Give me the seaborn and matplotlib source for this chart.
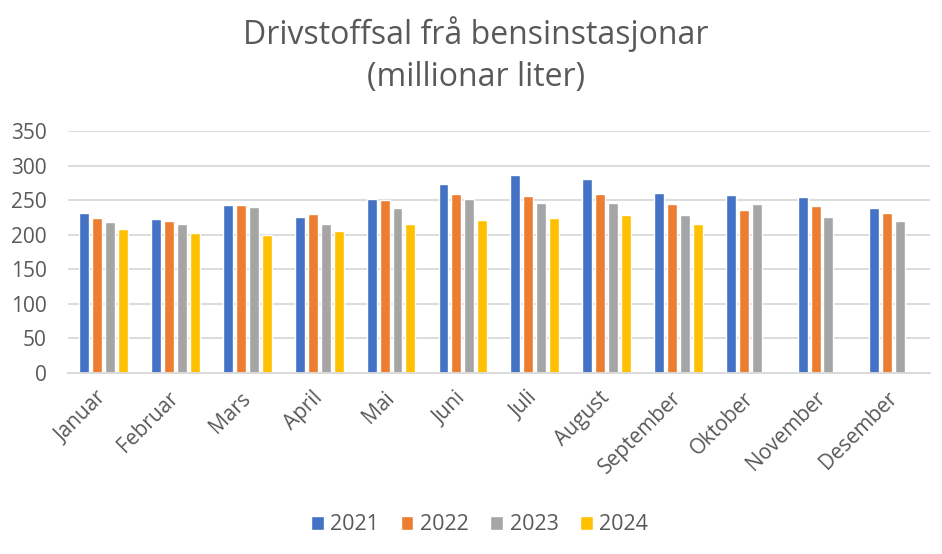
import numpy as np
import pandas as pd
import matplotlib.pyplot as plt
import seaborn as sns

# Månader og verdiar (millionar liter)
maanader = ["Januar", "Februar", "Mars", "April", "Mai", "Juni", "Juli",
            "August", "September", "Oktober", "November", "Desember"]
aar = ["2021", "2022", "2023", "2024"]
v2021 = [232, 223, 243, 226, 252, 274, 287, 281, 261, 258, 255, 239]
v2022 = [224, 220, 243, 230, 250, 259, 256, 259, 245, 236, 242, 232]
v2023 = [218, 216, 240, 216, 239, 252, 246, 246, 229, 245, 226, 220]
v2024 = [208, 202, 200, 205, 216, 221, 224, 229, 216, np.nan, np.nan, np.nan]
farger = ["#4472C4", "#ED7D31", "#A5A5A5", "#FFC000"]

df = pd.DataFrame({
    "Månad": maanader * 4,
    "År": np.repeat(aar, 12),
    "Liter": v2021 + v2022 + v2023 + v2024,
})

sns.set_style("white")
plt.rcParams['font.family'] = ['Open Sans', 'DejaVu Sans']

fig, ax = plt.subplots(figsize=(9.42, 5.54), dpi=100)
sns.barplot(data=df, x="Månad", y="Liter", hue="År", palette=farger,
            width=0.72, gap=0.23, ax=ax, saturation=1)

ax.set_ylim(0, 350)
ax.set_yticks(range(0, 351, 50))
ax.yaxis.grid(True, color="#D9D9D9", linewidth=1.3)
ax.set_axisbelow(True)
for s in ["top", "right", "left"]:
    ax.spines[s].set_visible(False)
ax.spines["bottom"].set_color("#D9D9D9")
ax.spines["bottom"].set_linewidth(1.3)
ax.set_xlabel("")
ax.set_ylabel("")
ax.tick_params(axis="both", length=0, labelsize=15, colors="#595959")
ax.tick_params(axis="y", pad=15)
ax.tick_params(axis="x", pad=16)
plt.setp(ax.get_xticklabels(), rotation=45, ha="right", va="center",
         rotation_mode="anchor")

fig.text(0.505, 0.90, "Drivstoffsal frå bensinstasjonar\n(millionar liter)",
         ha="center", va="center", fontsize=23, color="#595959", linespacing=1.35)
ax.legend(loc="center", bbox_to_anchor=(0.509, 29 / 554), bbox_transform=fig.transFigure,
          ncol=4, frameon=False, fontsize=15.5, labelcolor="#595959",
          handlelength=0.6, handleheight=0.6, columnspacing=1.0, handletextpad=0.3)

fig.subplots_adjust(left=0.072, right=0.987, top=0.7635, bottom=0.3267)
fig.savefig("out.png", dpi=100)
